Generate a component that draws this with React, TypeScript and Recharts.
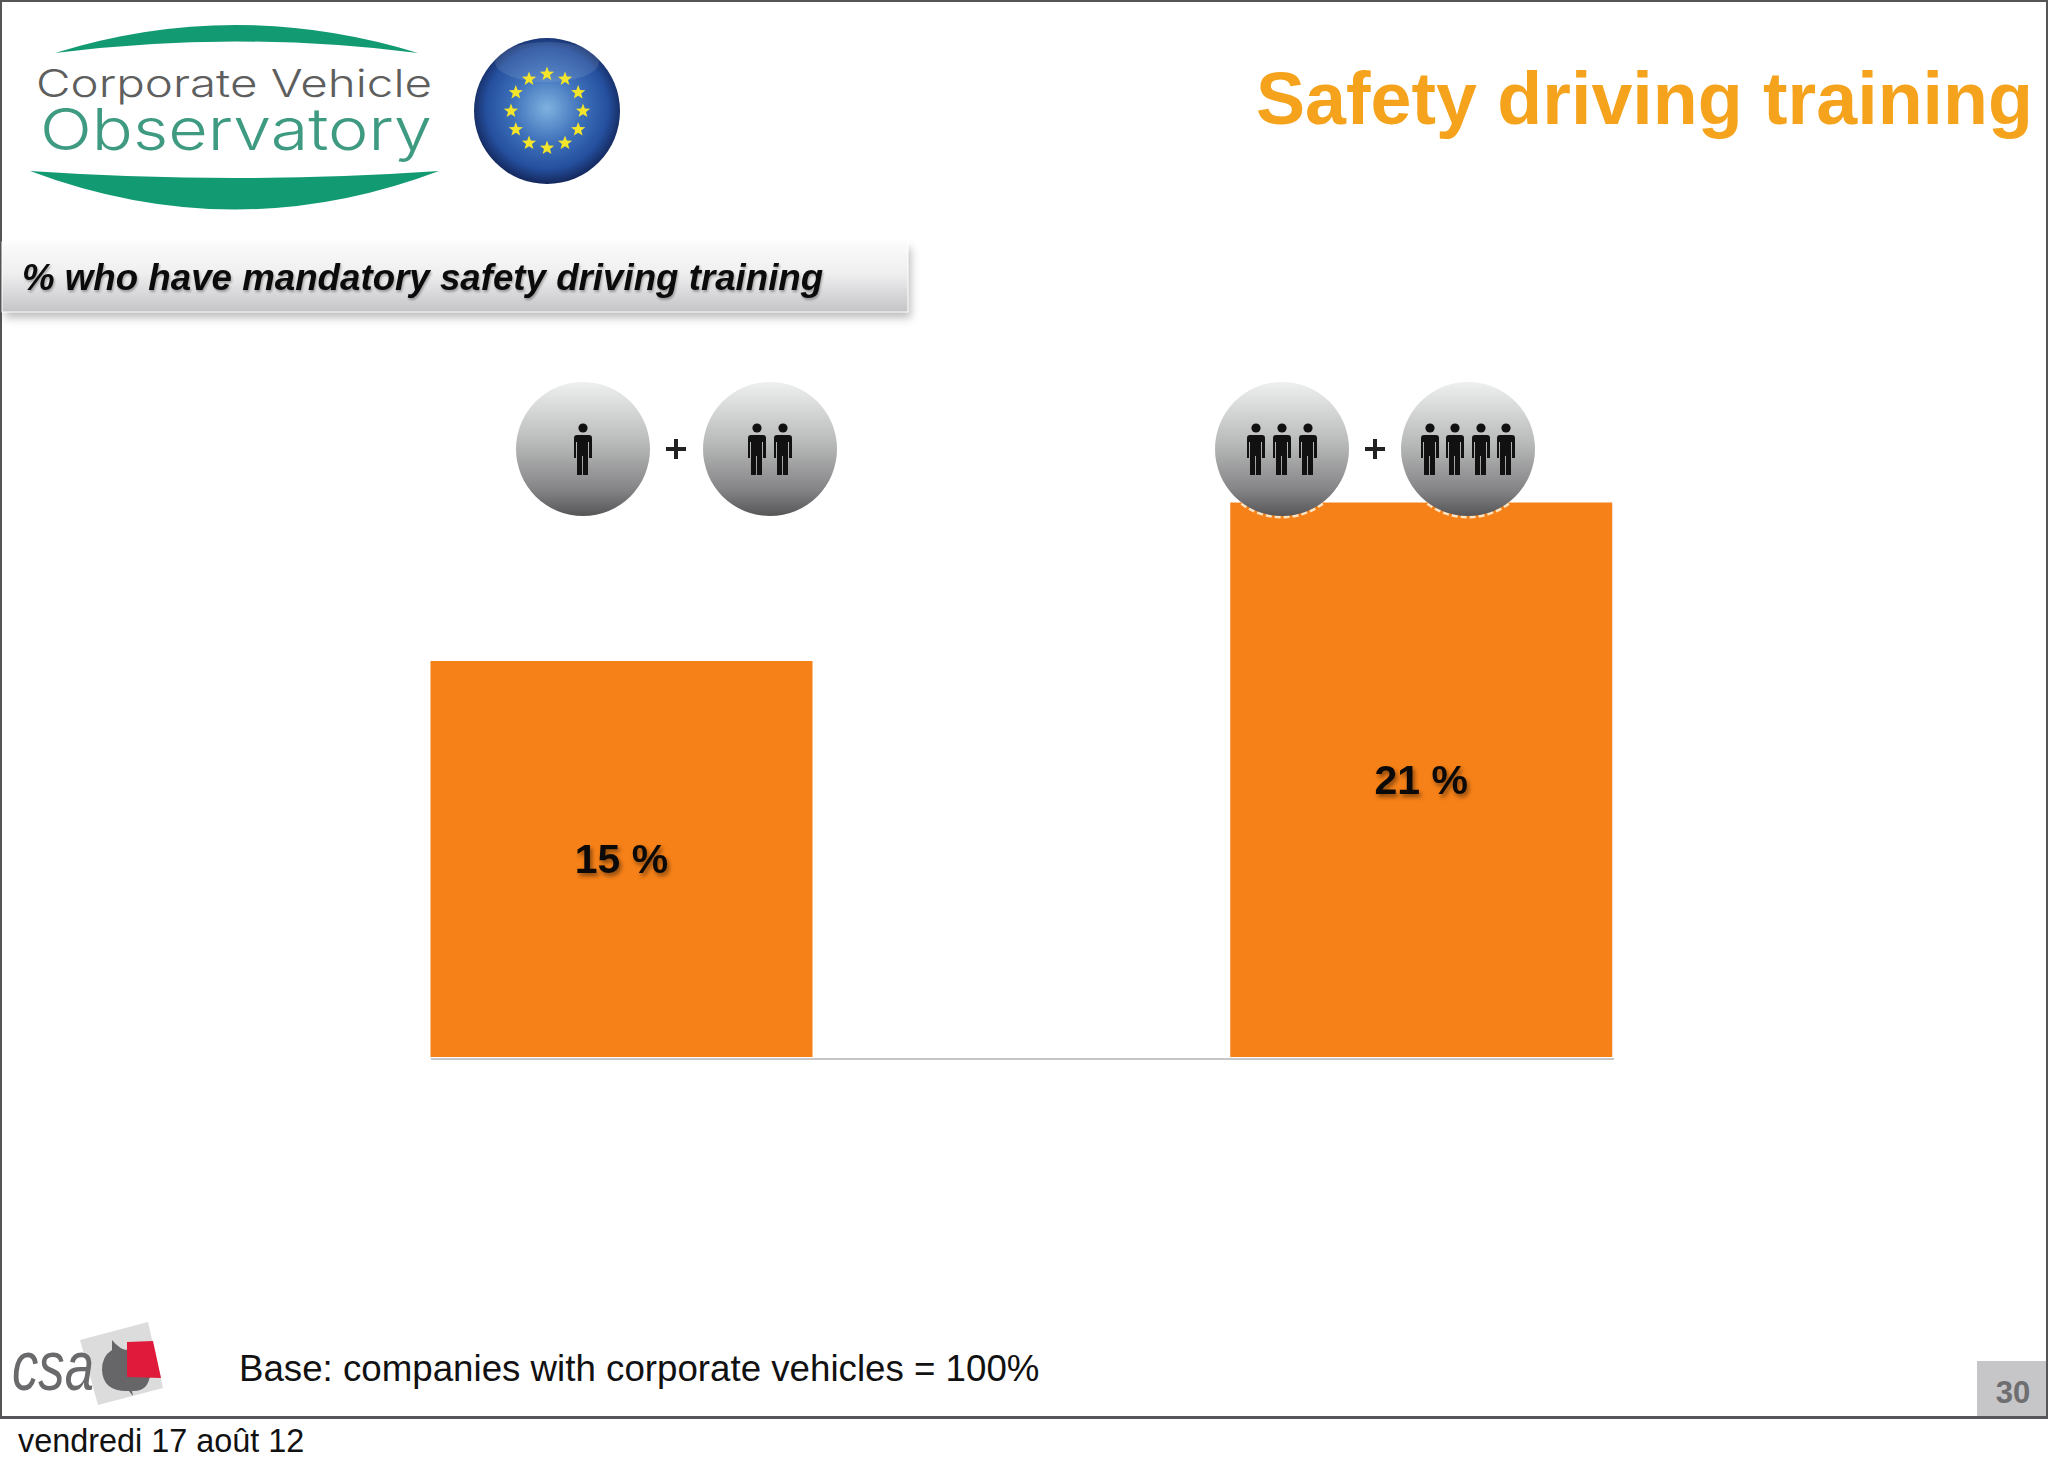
import { Bar, BarChart, LabelList, XAxis, YAxis } from "recharts";

const CATEGORIES = ["1 + 2", "3 + 4"];
const SHARES = [15, 21];
const TITLE = "Safety driving training";
const SUBTITLE = "% who have mandatory safety driving training";
const BASE_NOTE = "Base: companies with corporate vehicles = 100%";
const DATE_NOTE = "vendredi 17 août 12";
const PAGE_NUMBER = "30";

const ORANGE = "#f68118";
const FONT = '"Liberation Sans", Arial, sans-serif';

const chartData = CATEGORIES.map((name, i) => ({ name, share: SHARES[i] }));

const star = (cx: number, cy: number, r: number) => {
  const pts: string[] = [];
  for (let i = 0; i < 10; i++) {
    const a = -Math.PI / 2 + (i * Math.PI) / 5;
    const rad = i % 2 === 0 ? r : r * 0.42;
    pts.push(`${cx + rad * Math.cos(a)},${cy + rad * Math.sin(a)}`);
  }
  return pts.join(" ");
};

const Person = ({ x }: { x: number }) => (
  <g fill="#111">
    <circle cx={x} cy={428} r={4.6} />
    <path
      d={`M${x - 9} 438 q0 -3 3 -3 h12 q3 0 3 3 v20 h-3 v-16 h-1 v33 h-5 v-19 h-1 v19 h-5 v-33 h-1 v16 h-2 z`}
    />
  </g>
);

const Badge = ({ cx, people }: { cx: number; people: number[] }) => (
  <g>
    {/* pale fringe only shows where the badge sits on the bar */}
    <circle
      cx={cx}
      cy={449}
      r={68}
      fill="none"
      stroke="#fde3c0"
      strokeWidth={3}
      strokeDasharray="6 3"
      clipPath="url(#onBar)"
    />
    <circle cx={cx} cy={449} r={67} fill="url(#badge)" />
    {people.map((p) => (
      <Person key={p} x={cx + p} />
    ))}
  </g>
);

const Plus = ({ x }: { x: number }) => (
  <path d={`M${x - 10} 449 h20 M${x} 439 v20`} stroke="#222" strokeWidth={4} />
);

const App = () => {
  return (
    <div
      style={{
        position: "absolute",
        left: 0,
        top: 0,
        width: 2048,
        height: 1470,
        background: "#fff",
        overflow: "hidden",
      }}
    >
      <div style={{ position: "absolute", left: 0, top: 0 }}>
        <BarChart
          width={2048}
          height={1470}
          data={chartData}
          margin={{ top: 397, right: 434, bottom: 410, left: 431 }}
        >
          <XAxis
            dataKey="name"
            height={1}
            tick={false}
            tickLine={false}
            padding={{ left: -209.5, right: -207 }}
            axisLine={{ stroke: "#c6c6c9", strokeWidth: 2 }}
          />
          <YAxis hide domain={[-0.08, 25]} />
          <Bar dataKey="share" fill={ORANGE} barSize={382} isAnimationActive={false}>
            <LabelList
              dataKey="share"
              position="center"
              formatter={(v: any) => `${v} %`}
              style={{
                fontFamily: FONT,
                fontWeight: 700,
                fontSize: 41,
                fill: "#0c0a08",
                filter: "drop-shadow(2px 3px 2px rgba(0,0,0,0.45))",
              }}
            />
          </Bar>
        </BarChart>
      </div>

      <svg
        width={2048}
        height={1470}
        style={{ position: "absolute", left: 0, top: 0, pointerEvents: "none" }}
      >
        <defs>
          <linearGradient id="badge" x1="0" y1="0" x2="0" y2="1">
            <stop offset="0" stopColor="#eeefef" />
            <stop offset="0.45" stopColor="#b9baba" />
            <stop offset="0.8" stopColor="#858587" />
            <stop offset="1" stopColor="#565658" />
          </linearGradient>
          <linearGradient id="banner" x1="0" y1="0" x2="0" y2="1">
            <stop offset="0" stopColor="#fbfbfb" />
            <stop offset="0.45" stopColor="#efeff0" />
            <stop offset="1" stopColor="#c4c4c7" />
          </linearGradient>
          <radialGradient id="globe" cx="0.5" cy="0.48" r="0.52">
            <stop offset="0" stopColor="#7fb2df" />
            <stop offset="0.45" stopColor="#3f72bb" />
            <stop offset="0.8" stopColor="#25509f" />
            <stop offset="1" stopColor="#14285c" />
          </radialGradient>
          <filter id="soft" x="-5%" y="-30%" width="110%" height="170%">
            <feDropShadow dx="3" dy="6" stdDeviation="4" floodColor="#000" floodOpacity="0.25" />
          </filter>
          <clipPath id="onBar">
            <rect x={1229} y={502} width={384} height={30} />
          </clipPath>
        </defs>

        {/* slide frame */}
        <path d="M1 1417 V1 H2047 V1417" fill="none" stroke="#555" strokeWidth={2} />
        <rect x={1977} y={1361} width={69} height={55} fill="#c6c5c8" />
        <text
          x={2013}
          y={1403}
          textAnchor="middle"
          fontFamily={FONT}
          fontWeight={700}
          fontSize={31}
          fill="#6e6e70"
        >
          {PAGE_NUMBER}
        </text>
        <rect x={0} y={1416} width={2048} height={3} fill="#55555a" />

        {/* observatory logo */}
        <path d="M55 53 Q235 -3 418 53 Q235 30 55 53 Z" fill="#129a73" />
        <path d="M30 171 Q235 185 439 171 Q235 248 30 171 Z" fill="#129a73" />
        <text
          x={36}
          y={97}
          fontFamily="Inter, sans-serif"
          fontWeight={300}
          fontSize={38}
          fill="#5e5e5e"
          textLength={396}
          lengthAdjust="spacingAndGlyphs"
        >
          Corporate Vehicle
        </text>
        <text
          x={40}
          y={150}
          fontFamily="Inter, sans-serif"
          fontWeight={300}
          fontSize={58}
          fill="#3f9a82"
          textLength={392}
          lengthAdjust="spacingAndGlyphs"
        >
          Observatory
        </text>

        {/* EU globe */}
        <circle cx={547} cy={111} r={73} fill="url(#globe)" />
        <ellipse cx={547} cy={62} rx={52} ry={20} fill="#ffffff" opacity={0.1} />
        {Array.from({ length: 12 }, (_, i) => {
          const a = (i * Math.PI) / 6;
          return (
            <polygon
              key={i}
              points={star(547 + 36 * Math.sin(a), 111 - 37 * Math.cos(a), 7.5)}
              fill="#f3e52c"
            />
          );
        })}

        {/* title */}
        <text
          x={1256}
          y={124}
          fontFamily={FONT}
          fontWeight={700}
          fontSize={73.6}
          fill="#f5a31c"
        >
          {TITLE}
        </text>

        {/* subtitle banner */}
        <rect x={2} y={242} width={906} height={70} fill="url(#banner)" filter="url(#soft)" />
        <rect x={2} y={242} width={906} height={70} fill="none" stroke="#ffffff" strokeWidth={1} />
        <text
          x={22}
          y={290}
          fontFamily={FONT}
          fontWeight={700}
          fontStyle="italic"
          fontSize={36.7}
          fill="#0b0b0b"
          style={{ filter: "drop-shadow(1px 2px 1px rgba(0,0,0,0.3))" }}
        >
          {SUBTITLE}
        </text>

        {/* company size badges */}
        <Badge cx={583} people={[0]} />
        <Plus x={676} />
        <Badge cx={770} people={[-13, 13]} />
        <Badge cx={1282} people={[-26, 0, 26]} />
        <Plus x={1375} />
        <Badge cx={1468} people={[-38, -13, 13, 38]} />

        {/* csa logo */}
        <polygon points="148,1322 163,1388 98,1405 80,1340" fill="#dcdcdc" />
        <path
          d="M112 1340 Q120 1350 128 1350 L150 1350 L150 1375 Q148 1392 132 1391 L133 1396 L129 1391 Q103 1392 102 1370 Q102 1356 112 1350 Z"
          fill="#666668"
        />
        <polygon points="127,1342 153,1341 161,1378 127,1377" fill="#e01a3a" />
        <text
          x={12}
          y={1390}
          fontFamily={FONT}
          fontStyle="italic"
          fontSize={70}
          fill="#6a6a6c"
          textLength={82}
          lengthAdjust="spacingAndGlyphs"
        >
          csa
        </text>

        {/* notes */}
        <text x={239} y={1381} fontFamily={FONT} fontSize={36.7} fill="#111">
          {BASE_NOTE}
        </text>
        <text x={18} y={1452} fontFamily={FONT} fontSize={32.4} fill="#111">
          {DATE_NOTE}
        </text>
      </svg>
    </div>
  );
};

export default App;
